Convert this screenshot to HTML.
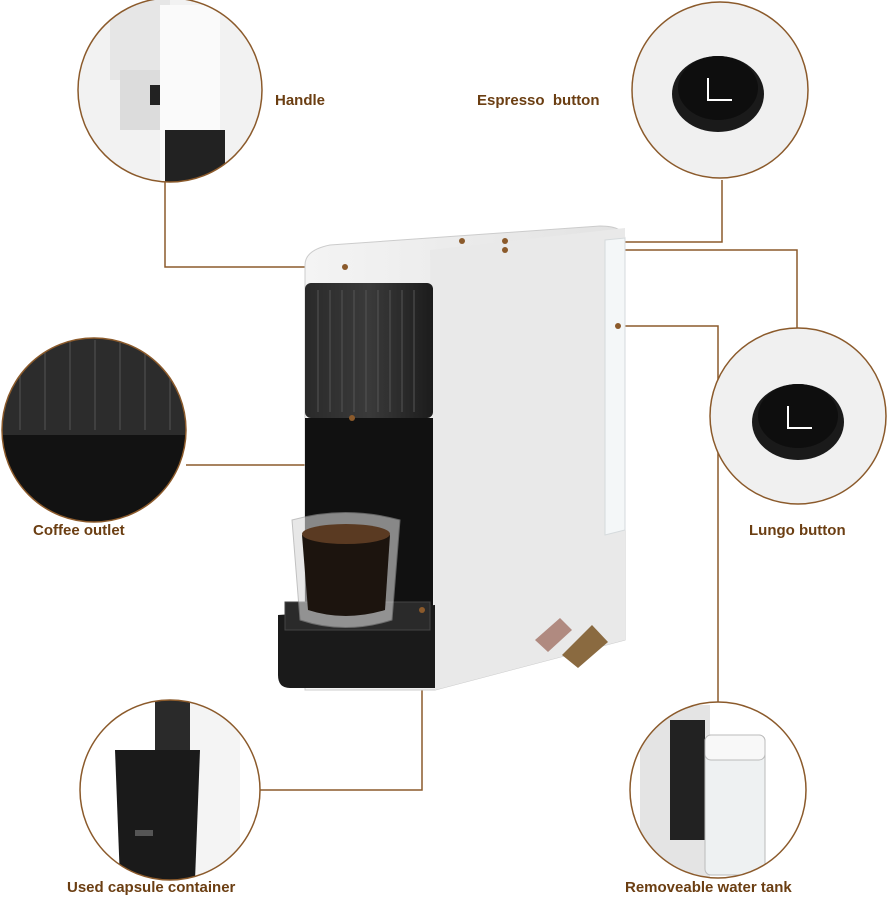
<!DOCTYPE html>
<html><head><meta charset="utf-8"><style>
html,body{margin:0;padding:0;background:#fff;}
svg{display:block}
text{font-family:"Liberation Sans",sans-serif;font-weight:bold;font-size:15px;fill:#6b3e12}
</style></head><body>
<svg width="889" height="900" viewBox="0 0 889 900">
<defs>
<linearGradient id="body" x1="0" x2="1"><stop offset="0" stop-color="#f4f4f4"/><stop offset="1" stop-color="#e2e2e2"/></linearGradient>
<linearGradient id="blk" x1="0" x2="1"><stop offset="0" stop-color="#2a2a2a"/><stop offset="0.5" stop-color="#3a3a3a"/><stop offset="1" stop-color="#1c1c1c"/></linearGradient>
<clipPath id="c1"><circle cx="170" cy="90" r="92"/></clipPath>
<clipPath id="c3"><circle cx="94" cy="430" r="92"/></clipPath>
<clipPath id="c5"><circle cx="170" cy="790" r="90"/></clipPath>
<clipPath id="c6"><circle cx="718" cy="790" r="88"/></clipPath>
</defs>

<g stroke="#8b5a2b" stroke-width="1.5" fill="none">
<polyline points="165,182 165,267 345,267"/>
<polyline points="722,180 722,242 460,242"/>
<polyline points="797,330 797,250 505,250"/>
<polyline points="718,702 718,326 618,326"/>
<polyline points="186,465 352,465 352,418"/>
<polyline points="260,790 422,790 422,610"/>
</g>

<path d="M305,265 Q305,250 330,245 L600,226 Q625,226 625,240 L625,640 L435,690 L305,690 Z" fill="url(#body)" stroke="#ccc"/>
<path d="M430,250 L625,228 L625,640 L435,690 Z" fill="#e9e9e9"/>
<path d="M605,240 L625,238 L625,530 L605,535 Z" fill="#f4f7f8" stroke="#d5dadc"/>
<rect x="305" y="283" width="128" height="135" rx="6" fill="url(#blk)"/>
<g stroke="#555" stroke-width="1">
<line x1="318" y1="290" x2="318" y2="412"/><line x1="330" y1="290" x2="330" y2="412"/><line x1="342" y1="290" x2="342" y2="412"/><line x1="354" y1="290" x2="354" y2="412"/><line x1="366" y1="290" x2="366" y2="412"/><line x1="378" y1="290" x2="378" y2="412"/><line x1="390" y1="290" x2="390" y2="412"/><line x1="402" y1="290" x2="402" y2="412"/><line x1="414" y1="290" x2="414" y2="412"/>
</g>
<rect x="305" y="418" width="128" height="190" fill="#111"/>
<path d="M278,615 L435,605 L435,688 L290,688 Q278,688 278,675 Z" fill="#1a1a1a"/>
<rect x="285" y="602" width="145" height="28" fill="#2a2a2a" stroke="#444"/>
<path d="M292,520 Q345,505 400,520 L392,620 Q345,635 300,620 Z" fill="#d8d8d8" opacity="0.6" stroke="#999"/>
<path d="M302,535 Q345,525 390,535 L385,610 Q345,622 308,610 Z" fill="#1c140e"/>
<ellipse cx="346" cy="534" rx="44" ry="10" fill="#5a3a22"/>
<circle cx="462" cy="241" r="3" fill="#8b5a2b"/><circle cx="505" cy="241" r="3" fill="#8b5a2b"/>
<path d="M535,640 L560,618 L572,630 L548,652 Z" fill="#b08a80"/>
<path d="M562,655 L592,625 L608,642 L578,668 Z" fill="#8a6a40"/>
<g fill="#8b5a2b"><circle cx="345" cy="267" r="3"/><circle cx="505" cy="250" r="3"/><circle cx="618" cy="326" r="3"/><circle cx="352" cy="418" r="3"/><circle cx="422" cy="610" r="3"/></g>

<circle cx="170" cy="90" r="92" fill="#f2f2f2"/>
<g clip-path="url(#c1)">
<rect x="110" y="-10" width="60" height="90" fill="#e6e6e6"/>
<rect x="120" y="70" width="80" height="60" fill="#dcdcdc"/>
<rect x="150" y="85" width="35" height="20" fill="#222"/>
<rect x="160" y="5" width="60" height="180" fill="#fafafa"/>
<rect x="165" y="130" width="60" height="60" fill="#222"/>
</g>
<circle cx="170" cy="90" r="92" fill="none" stroke="#8b5a2b" stroke-width="1.5"/>
<circle cx="720" cy="90" r="88" fill="#f0f0f0" stroke="#8b5a2b" stroke-width="1.5"/>
<ellipse cx="718" cy="94" rx="46" ry="38" fill="#1a1a1a"/>
<ellipse cx="718" cy="88" rx="40" ry="32" fill="#0e0e0e"/>
<polyline points="708,78 708,100 732,100" fill="none" stroke="#fff" stroke-width="2"/>
<circle cx="94" cy="430" r="92" fill="#fff"/>
<g clip-path="url(#c3)">
<rect x="0" y="330" width="190" height="105" fill="#2c2c2c"/>
<g stroke="#555"><line x1="20" y1="340" x2="20" y2="430"/><line x1="45" y1="340" x2="45" y2="430"/><line x1="70" y1="340" x2="70" y2="430"/><line x1="95" y1="340" x2="95" y2="430"/><line x1="120" y1="340" x2="120" y2="430"/><line x1="145" y1="340" x2="145" y2="430"/><line x1="170" y1="340" x2="170" y2="430"/></g>
<rect x="0" y="435" width="190" height="90" fill="#121212"/>
</g>
<circle cx="94" cy="430" r="92" fill="none" stroke="#8b5a2b" stroke-width="1.5"/>
<circle cx="798" cy="416" r="88" fill="#f0f0f0" stroke="#8b5a2b" stroke-width="1.5"/>
<ellipse cx="798" cy="422" rx="46" ry="38" fill="#1a1a1a"/>
<ellipse cx="798" cy="416" rx="40" ry="32" fill="#0e0e0e"/>
<polyline points="788,406 788,428 812,428" fill="none" stroke="#fff" stroke-width="2"/>
<circle cx="170" cy="790" r="90" fill="#fff"/>
<g clip-path="url(#c5)">
<rect x="155" y="690" width="35" height="100" fill="#2a2a2a"/>
<rect x="190" y="690" width="50" height="200" fill="#f4f4f4"/>
<path d="M115,750 L200,750 L195,880 L120,880 Z" fill="#1a1a1a"/>
<rect x="135" y="830" width="18" height="6" fill="#555"/>
</g>
<circle cx="170" cy="790" r="90" fill="none" stroke="#8b5a2b" stroke-width="1.5"/>
<circle cx="718" cy="790" r="88" fill="#fff"/>
<g clip-path="url(#c6)">
<rect x="640" y="705" width="70" height="180" fill="#e4e4e4"/>
<rect x="670" y="720" width="35" height="120" fill="#222"/>
<rect x="705" y="735" width="60" height="140" rx="6" fill="#eef1f2" stroke="#bbb"/>
<rect x="705" y="735" width="60" height="25" rx="6" fill="#f8f8f8" stroke="#bbb"/>
</g>
<circle cx="718" cy="790" r="88" fill="none" stroke="#8b5a2b" stroke-width="1.5"/>

<text x="275" y="105">Handle</text>
<text x="477" y="105">Espresso&#160; button</text>
<text x="33" y="535">Coffee outlet</text>
<text x="749" y="535">Lungo button</text>
<text x="67" y="892">Used capsule container</text>
<text x="625" y="892">Removeable water tank</text>
</svg>
</body></html>
